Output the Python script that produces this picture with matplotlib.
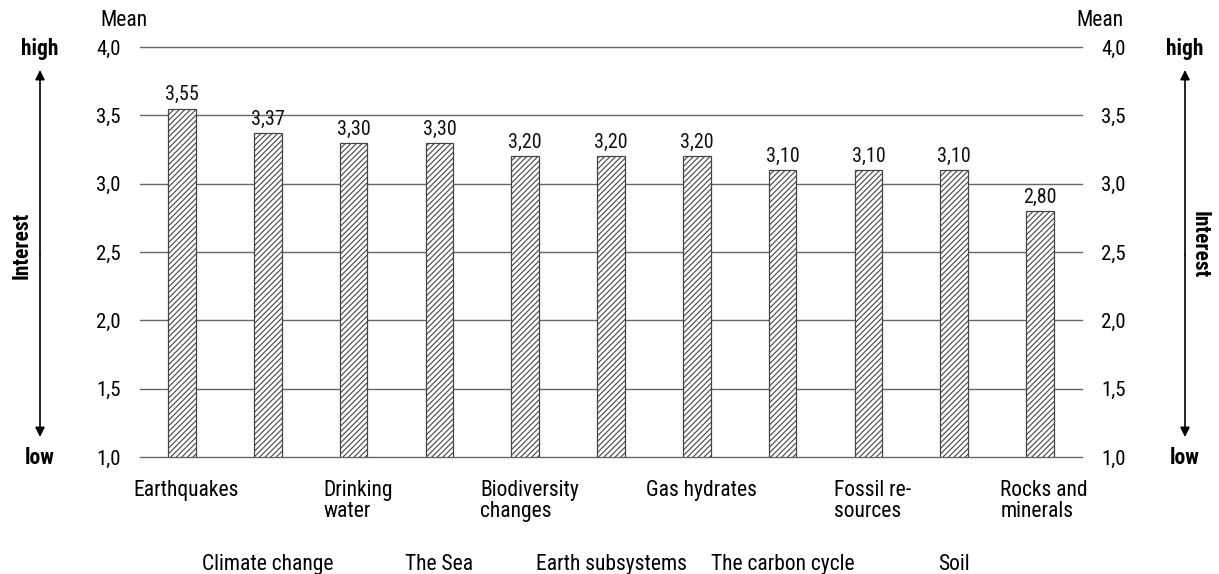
import matplotlib
matplotlib.use("Agg")
import matplotlib.pyplot as plt
from matplotlib.ticker import FixedLocator, FuncFormatter
from matplotlib import font_manager

# a narrow sans looks closest to the original typeface
installed = {f.name for f in font_manager.fontManager.ttflist}
wanted = ['Roboto Condensed', 'Liberation Sans Narrow', 'Archivo Narrow',
          'PT Sans Narrow', 'Open Sans Condensed', 'DejaVu Sans']
plt.rcParams['font.family'] = [f for f in wanted if f in installed] or ['DejaVu Sans']
plt.rcParams['hatch.color'] = '#444444'
plt.rcParams['hatch.linewidth'] = 0.8

# --- data ---
topics = ["Earthquakes", "Climate change", "Drinking\nwater", "The Sea",
          "Biodiversity\nchanges", "Earth subsystems", "Gas hydrates",
          "The carbon cycle", "Fossil re-\nsources", "Soil", "Rocks and\nminerals"]
means = [3.55, 3.37, 3.30, 3.30, 3.20, 3.20, 3.20, 3.10, 3.10, 3.10, 2.80]
yticks = [1.0, 1.5, 2.0, 2.5, 3.0, 3.5, 4.0]

fig = plt.figure(figsize=(12.19, 5.74), dpi=100)
ax = fig.add_axes([140 / 1219, 1 - 457 / 574, 942 / 1219, 410 / 574])

x = list(range(len(means)))
base = 1.0
ax.bar(x, [m - base for m in means], bottom=base, width=0.32,
       color='white', edgecolor='#444444', hatch='//////', linewidth=0.9, zorder=3)

for xi, m in zip(x, means):
    ax.text(xi, m + 0.03, f"{m:.2f}".replace('.', ','), ha='center', va='bottom',
            fontsize=14.5, color='#111111', zorder=4)

ax.set_xlim(-0.49, len(means) - 0.51)
ax.set_ylim(1.0, 4.0)
ax.yaxis.set_major_locator(FixedLocator(yticks))
ax.yaxis.set_major_formatter(FuncFormatter(lambda v, p: f"{v:.1f}".replace('.', ',')))
for yv in yticks:
    ax.axhline(yv, color='#666666', linewidth=1.0, zorder=0, clip_on=False)
ax.tick_params(axis='y', length=0, pad=14, labelsize=15, labelright=True, right=False)
ax.set_xticks([])
for s in ax.spines.values():
    s.set_visible(False)

# category labels in two staggered rows
for xi, t in enumerate(topics):
    if xi % 2 == 0:
        ax.text(xi + 0.05, -0.055, t, transform=ax.get_xaxis_transform(), ha='center',
                va='top', multialignment='left', fontsize=15.5, linespacing=1.0)
    else:
        ax.text(xi, -0.263, t, transform=ax.get_xaxis_transform(), ha='center', va='center',
                fontsize=15.5)

# "Mean" headers
fig.text(100 / 1219, 1 - 21 / 574, "Mean", ha='left', va='center', fontsize=15.5)
fig.text(1123 / 1219, 1 - 21 / 574, "Mean", ha='right', va='center', fontsize=15.5)

# interest arrows on both sides
for xa, xt, rot in [(40, 22, 90), (1185, 1200, 270)]:
    fig.text(xa / 1219, 1 - 49 / 574, "high", ha='center', va='center',
             fontsize=15.5, fontweight='bold')
    fig.text(xa / 1219, 1 - 458 / 574, "low", ha='center', va='center',
             fontsize=15.5, fontweight='bold')
    fig.text(xt / 1219, 1 - 245 / 574, "Interest", ha='center', va='center',
             rotation=rot, fontsize=15.5, fontweight='bold')
    for yend in (70, 437):
        ax.annotate("", xy=(xa / 1219, 1 - yend / 574), xytext=(xa / 1219, 1 - 255 / 574),
                    xycoords='figure fraction', textcoords='figure fraction',
                    arrowprops=dict(arrowstyle='-|>', color='black', lw=1.2,
                                    mutation_scale=14, shrinkA=0, shrinkB=0))

fig.savefig("out.png", dpi=100)
